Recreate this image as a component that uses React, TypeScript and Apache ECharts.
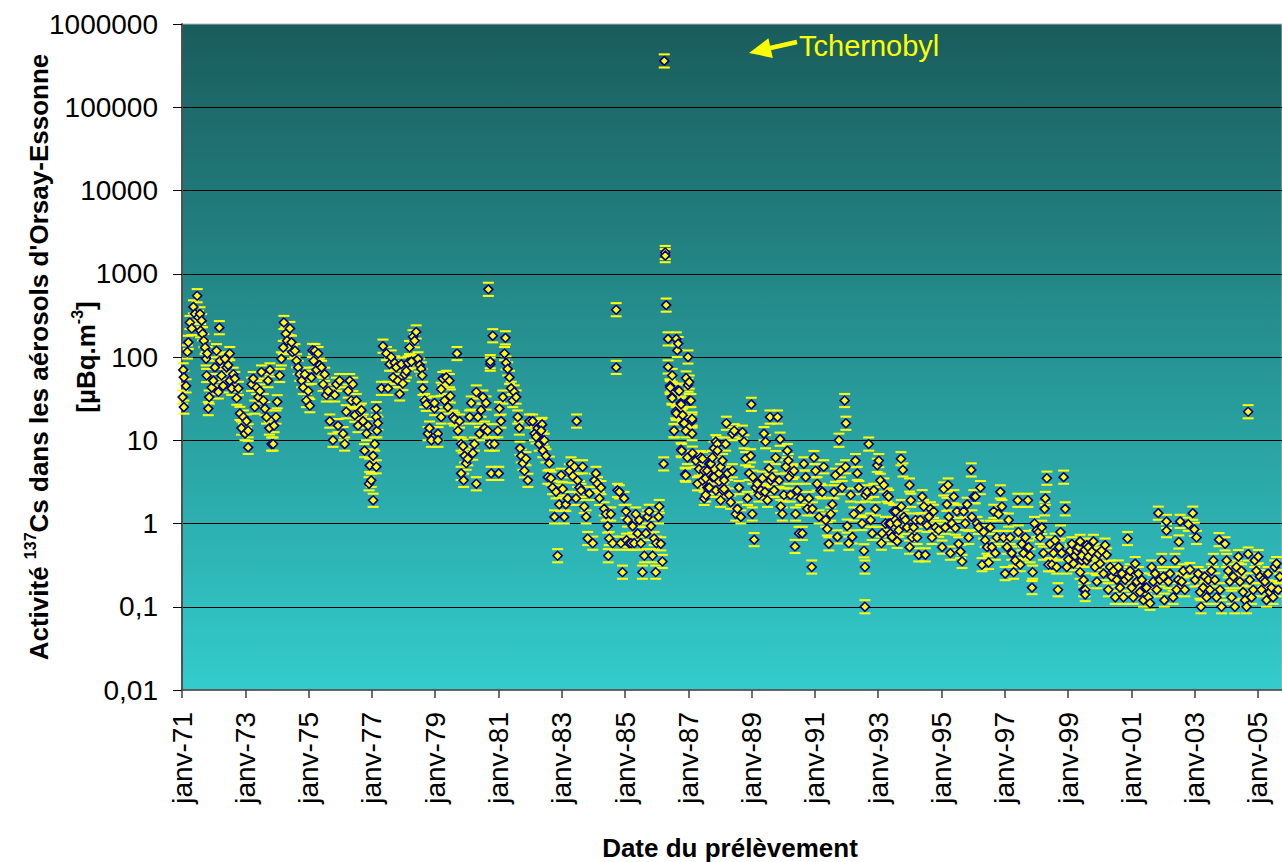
import { useEffect, useRef } from 'react';
import * as echarts from 'echarts';

// y-axis tick labels (log scale, one per decade, from 0,01 to 1000000)
const yTickLabels = ['0,01', '0,1', '1', '10', '100', '1000', '10000', '100000', '1000000'];
const firstYear = 1971;
const lastDate = 2005.76;
const errorFactor = 1.2; // relative uncertainty shown by the error bars

// [decimal year of sampling, 137Cs activity in µBq.m-3]
const samples1971to1976: [number, number][] = [
  [1971.04, 70], [1971.06, 57], [1971.02, 33], [1971.06, 25], [1971.13, 45], [1971.17, 115], [1971.2, 150],
  [1971.25, 260], [1971.31, 220], [1971.36, 400], [1971.41, 330], [1971.48, 545], [1971.52, 300], [1971.57, 330],
  [1971.59, 207], [1971.62, 273], [1971.65, 190], [1971.69, 157], [1971.73, 130], [1971.76, 95], [1971.78, 60],
  [1971.8, 110], [1971.83, 24], [1971.86, 33], [1971.94, 43], [1971.99, 52], [1972.04, 75], [1972.09, 119],
  [1972.15, 38], [1972.18, 225], [1972.2, 90], [1972.25, 60], [1972.3, 45], [1972.36, 95], [1972.41, 75],
  [1972.46, 80], [1972.51, 110], [1972.51, 52], [1972.57, 42], [1972.62, 62], [1972.67, 55], [1972.73, 32],
  [1972.78, 42], [1972.83, 21], [1972.88, 14], [1972.94, 19], [1972.99, 12], [1973.04, 17], [1973.09, 8.2],
  [1973.09, 13], [1973.2, 47], [1973.25, 55], [1973.3, 25], [1973.36, 43], [1973.41, 33], [1973.46, 39],
  [1973.51, 66], [1973.57, 30], [1973.62, 24], [1973.67, 19], [1973.72, 52], [1973.76, 14], [1973.78, 70],
  [1973.83, 9], [1973.88, 9], [1973.91, 15], [1973.97, 19], [1974.01, 29], [1974.09, 60], [1974.14, 95],
  [1974.2, 130], [1974.22, 260], [1974.28, 190], [1974.32, 157], [1974.41, 220], [1974.46, 150], [1974.49, 115],
  [1974.57, 119], [1974.62, 90], [1974.67, 75], [1974.72, 62], [1974.78, 52], [1974.83, 43], [1974.88, 62],
  [1974.93, 30], [1974.99, 39], [1975.04, 26], [1975.09, 57], [1975.12, 120], [1975.16, 90], [1975.2, 119],
  [1975.25, 70], [1975.3, 110], [1975.35, 80], [1975.41, 75], [1975.46, 47], [1975.51, 62], [1975.56, 35],
  [1975.62, 39], [1975.67, 17], [1975.77, 10], [1975.83, 35], [1975.88, 47], [1975.93, 15], [1975.98, 52],
  [1976.09, 12], [1976.14, 9], [1976.19, 22], [1976.25, 39], [1976.3, 52], [1976.35, 30], [1976.4, 47],
  [1976.46, 20], [1976.51, 30], [1976.56, 15], [1976.62, 22],
];

const samples1976to1982: [number, number][] = [
  [1976.67, 23], [1976.72, 17], [1976.77, 7.5], [1976.83, 12], [1976.88, 15], [1976.91, 3], [1976.93, 5],
  [1976.98, 3.3], [1977.04, 6.5], [1977.04, 1.9], [1977.09, 9], [1977.14, 24], [1977.14, 19], [1977.14, 4.8],
  [1977.16, 13], [1977.19, 16], [1977.3, 42], [1977.35, 135], [1977.46, 110], [1977.51, 42], [1977.56, 82],
  [1977.61, 100], [1977.67, 57], [1977.72, 85], [1977.77, 75], [1977.82, 52], [1977.88, 36], [1977.93, 82],
  [1977.98, 48], [1978.04, 62], [1978.09, 68], [1978.14, 85], [1978.19, 130], [1978.25, 88], [1978.3, 175],
  [1978.35, 157], [1978.4, 200], [1978.46, 95], [1978.51, 80], [1978.56, 72], [1978.59, 60], [1978.61, 42],
  [1978.67, 30], [1978.72, 27], [1978.77, 12], [1978.82, 14], [1978.88, 10], [1978.98, 24], [1978.98, 28],
  [1979.09, 12], [1979.09, 10], [1979.19, 41], [1979.19, 19], [1979.24, 55], [1979.3, 30], [1979.35, 57],
  [1979.4, 25], [1979.45, 52], [1979.48, 34], [1979.56, 19], [1979.61, 18], [1979.69, 110], [1979.72, 13],
  [1979.77, 17], [1979.82, 9], [1979.82, 4], [1979.88, 8.5], [1979.9, 3.3], [1979.93, 6.5], [1979.98, 5.3],
  [1980.03, 6], [1980.09, 19], [1980.14, 28], [1980.19, 7], [1980.24, 9], [1980.3, 38], [1980.3, 3],
  [1980.35, 19], [1980.4, 12], [1980.45, 23], [1980.51, 33], [1980.56, 14], [1980.61, 28], [1980.66, 13],
  [1980.68, 650], [1980.72, 9], [1980.74, 82], [1980.74, 88], [1980.77, 4], [1980.82, 180], [1980.87, 9],
  [1980.98, 13], [1981.01, 4], [1981.03, 24], [1981.08, 17], [1981.14, 33], [1981.19, 110], [1981.22, 170],
  [1981.24, 85], [1981.29, 72], [1981.35, 57], [1981.4, 42], [1981.45, 30], [1981.5, 38], [1981.56, 33],
  [1981.61, 19], [1981.66, 14], [1981.68, 8], [1981.72, 6.5], [1981.77, 5.3], [1981.82, 4.3], [1981.87, 6],
  [1981.93, 3.3], [1981.98, 17], [1982.08, 17], [1982.14, 12], [1982.19, 11], [1982.24, 14], [1982.29, 9],
  [1982.35, 15], [1982.4, 10],
];

const samples1982to1986: [number, number][] = [
  [1982.38, 15.5], [1982.35, 13], [1982.45, 10], [1982.4, 7.5], [1982.5, 6.5], [1982.61, 5.3], [1982.56, 3.6],
  [1982.66, 3.5], [1982.71, 2.7], [1982.77, 1.2], [1982.82, 2.4], [1982.87, 0.41], [1982.92, 1.7], [1982.98, 3.8],
  [1983.03, 2.6], [1983.08, 1.2], [1983.13, 1.7], [1983.19, 2], [1983.24, 4.3], [1983.29, 5.2], [1983.35, 3.7],
  [1983.4, 4.8], [1983.45, 2], [1983.47, 17], [1983.5, 3.3], [1983.56, 2.7], [1983.61, 2.5], [1983.66, 4.8],
  [1983.71, 1.6], [1983.77, 1.2], [1983.82, 0.66], [1983.87, 2.3], [1983.98, 0.58], [1984.03, 3.3], [1984.08, 4],
  [1984.13, 3], [1984.19, 2], [1984.24, 2.7], [1984.34, 1.5], [1984.4, 1.3], [1984.45, 0.93], [1984.47, 0.41],
  [1984.5, 0.66], [1984.55, 1.3], [1984.61, 0.58], [1984.72, 370], [1984.72, 75], [1984.76, 2.5], [1984.82, 2.4],
  [1984.87, 0.58], [1984.92, 0.26], [1984.97, 2], [1985.03, 1.4], [1985.05, 0.63], [1985.08, 1.1], [1985.13, 0.58],
  [1985.19, 0.58], [1985.24, 0.93], [1985.29, 0.58], [1985.34, 1.3], [1985.4, 0.76], [1985.45, 1.1], [1985.5, 0.58],
  [1985.55, 0.26], [1985.61, 0.41], [1985.66, 0.76], [1985.71, 1.2], [1985.76, 1.4], [1985.82, 0.93],
  [1985.87, 0.41], [1985.92, 0.66], [1985.97, 0.26], [1985.99, 0.58], [1986.06, 1.2], [1986.08, 1.6],
  [1986.13, 0.57], [1986.18, 0.35], [1986.22, 5.2],
];

const samplesChernobyl: [number, number][] = [
  [1986.24, 360000], [1986.27, 1800], [1986.27, 1650], [1986.3, 420], [1986.36, 165], [1986.36, 76],
  [1986.42, 45], [1986.43, 43], [1986.48, 33], [1986.49, 60], [1986.49, 32], [1986.55, 13], [1986.55, 13],
  [1986.6, 22], [1986.62, 165], [1986.62, 21], [1986.65, 120], [1986.68, 145], [1986.68, 40], [1986.71, 39],
  [1986.76, 28], [1986.77, 27], [1986.77, 7.7], [1986.79, 7.5], [1986.82, 20], [1986.84, 16], [1986.87, 16],
  [1986.9, 3.9], [1986.92, 13], [1986.92, 3.8], [1986.93, 56], [1986.97, 6.2], [1986.99, 100], [1986.99, 46],
  [1987.03, 30], [1987.03, 50], [1987.08, 30], [1987.11, 17], [1987.12, 18], [1987.12, 12], [1987.13, 7],
];

const samples1987to1993: [number, number][] = [
  [1987.24, 5.7], [1987.29, 3], [1987.34, 4.5], [1987.39, 6.2], [1987.45, 6], [1987.45, 3.3], [1987.5, 2],
  [1987.5, 4.3], [1987.55, 3.5], [1987.55, 2.2], [1987.6, 4.3], [1987.6, 2.7], [1987.66, 2.7], [1987.66, 5.2],
  [1987.71, 5.2], [1987.71, 3.8], [1987.76, 3.6], [1987.76, 6.2], [1987.81, 8], [1987.81, 3.6], [1987.87, 2.5],
  [1987.87, 9.6], [1987.92, 9], [1987.92, 7.5], [1987.97, 4], [1987.97, 3.2], [1988.02, 1.9], [1988.02, 4.8],
  [1988.08, 5.7], [1988.08, 2.5], [1988.13, 3.3], [1988.13, 2.6], [1988.18, 9], [1988.2, 16], [1988.24, 4],
  [1988.29, 2.2], [1988.34, 1.8], [1988.39, 12], [1988.39, 4.3], [1988.45, 13], [1988.5, 1.3], [1988.55, 1.5],
  [1988.6, 2.7], [1988.66, 1.2], [1988.71, 12.5], [1988.76, 9.6], [1988.81, 6], [1988.87, 2], [1988.92, 4],
  [1988.97, 6.5], [1988.99, 27], [1989.02, 1.3], [1989.04, 3.6], [1989.08, 0.64], [1989.13, 2.7], [1989.18, 3],
  [1989.23, 2.2], [1989.29, 2.5], [1989.34, 3.5], [1989.39, 12], [1989.42, 2.4], [1989.44, 9.6], [1989.5, 1.9],
  [1989.55, 4.6], [1989.58, 19], [1989.6, 3.3], [1989.65, 3.6], [1989.71, 2.5], [1989.76, 6.2], [1989.82, 19],
  [1989.87, 3.3], [1989.9, 10.3], [1989.92, 1.6], [1989.97, 1.3], [1990.02, 2.2], [1990.08, 4.8], [1990.13, 7.5],
  [1990.16, 5.7], [1990.18, 3.6], [1990.23, 2.2], [1990.29, 4.1], [1990.34, 4.3], [1990.37, 0.53], [1990.39, 1.3],
  [1990.44, 2.5], [1990.5, 0.76], [1990.55, 2], [1990.6, 0.76], [1990.65, 5.2], [1990.71, 3.6], [1990.76, 1.5],
  [1990.81, 2], [1990.9, 0.3], [1990.92, 1.5], [1990.97, 6.2], [1991.02, 4.3], [1991.07, 3], [1991.13, 1.2],
  [1991.18, 2.5], [1991.23, 2.4], [1991.28, 4.8], [1991.34, 1.1], [1991.39, 0.86], [1991.44, 0.57], [1991.5, 1.3],
  [1991.55, 1.7], [1991.6, 2.4], [1991.65, 3.8], [1991.71, 0.69], [1991.76, 10], [1991.81, 4.3], [1991.86, 2.7],
  [1991.94, 30], [1991.98, 16], [1991.97, 4.8], [1992.02, 0.93], [1992.07, 0.58], [1992.13, 2.2], [1992.18, 0.69],
  [1992.23, 1.3], [1992.28, 5.7], [1992.34, 4], [1992.39, 2.7], [1992.44, 1.5], [1992.49, 1], [1992.55, 0.47],
  [1992.58, 0.3], [1992.58, 0.1], [1992.6, 2.2], [1992.65, 2.4], [1992.7, 9], [1992.76, 1.1], [1992.81, 0.76],
  [1992.86, 2.5], [1992.91, 1.5], [1992.97, 5], [1993.02, 5.7], [1993.07, 3.3], [1993.1, 0.58], [1993.12, 0.76],
  [1993.18, 2.9], [1993.23, 1], [1993.28, 2.2],
];

const samples1993to1999: [number, number][] = [
  [1993.33, 2.1], [1993.34, 1], [1993.39, 1], [1993.39, 0.76], [1993.44, 0.68], [1993.44, 0.69], [1993.49, 1.4],
  [1993.54, 1.1], [1993.55, 1.4], [1993.6, 0.61], [1993.6, 1], [1993.65, 0.83], [1993.72, 6], [1993.73, 1.6],
  [1993.78, 4.4], [1993.81, 1.2], [1993.86, 1.1], [1993.91, 0.9], [1993.99, 2.9], [1993.99, 0.52], [1994.03, 1.9],
  [1994.07, 0.68], [1994.12, 0.9], [1994.18, 1.1], [1994.23, 0.68], [1994.28, 0.42], [1994.33, 1.1], [1994.39, 2.1],
  [1994.44, 1.6], [1994.49, 0.42], [1994.54, 0.95], [1994.6, 1.2], [1994.65, 1.5], [1994.7, 0.68], [1994.75, 1.4],
  [1994.81, 0.9], [1994.91, 0.83], [1995.02, 0.52], [1995.07, 2.6], [1995.12, 0.9], [1995.17, 1.7], [1995.21, 2.9],
  [1995.23, 1.2], [1995.28, 0.44], [1995.33, 1], [1995.39, 2.1], [1995.44, 0.88], [1995.49, 1.4], [1995.54, 0.57],
  [1995.6, 0.46], [1995.65, 0.35], [1995.7, 1.4], [1995.75, 1], [1995.81, 1.7], [1995.86, 0.68], [1995.94, 4.4],
  [1995.96, 1.2], [1996.02, 2.1], [1996.07, 2.1], [1996.12, 1], [1996.17, 0.9], [1996.23, 2.7], [1996.28, 0.32],
  [1996.33, 0.79], [1996.38, 0.63], [1996.44, 0.52], [1996.49, 0.34], [1996.54, 0.9], [1996.59, 0.52],
  [1996.65, 1.4], [1996.7, 0.44], [1996.75, 0.68], [1996.8, 1.3], [1996.86, 2.4], [1996.91, 1.6], [1996.96, 0.68],
  [1997.01, 0.25], [1997.07, 0.52], [1997.12, 1.1], [1997.17, 0.68], [1997.22, 0.44], [1997.28, 0.26],
  [1997.33, 0.36], [1997.41, 1.9], [1997.43, 0.79], [1997.49, 0.32], [1997.54, 0.57], [1997.59, 0.44],
  [1997.65, 0.68], [1997.73, 1.9], [1997.75, 0.52], [1997.8, 0.41], [1997.86, 0.17], [1997.88, 0.26], [1997.94, 1],
  [1998.01, 0.83], [1998.07, 0.79], [1998.12, 0.68], [1998.17, 0.9], [1998.22, 0.44], [1998.26, 1.5], [1998.28, 2],
  [1998.33, 3.5], [1998.38, 0.32], [1998.43, 0.57], [1998.49, 0.32], [1998.54, 0.44], [1998.59, 0.63],
  [1998.64, 0.3], [1998.68, 0.16], [1998.72, 0.52], [1998.76, 0.79], [1998.8, 0.44], [1998.86, 3.6], [1998.91, 1.5],
  [1998.96, 0.3], [1999.01, 0.37], [1999.07, 0.47], [1999.12, 0.57], [1999.17, 0.33], [1999.22, 0.41],
  [1999.28, 0.47], [1999.33, 0.52],
];

const samples1999to2005: [number, number][] = [
  [1999.38, 0.61], [1999.38, 0.26], [1999.43, 0.36], [1999.43, 0.41], [1999.49, 0.21], [1999.49, 0.16],
  [1999.54, 0.16], [1999.54, 0.14], [1999.59, 0.55], [1999.59, 0.36], [1999.64, 0.4], [1999.64, 0.52],
  [1999.75, 0.46], [1999.8, 0.61], [1999.85, 0.3], [1999.91, 0.2], [1999.96, 0.43], [2000.01, 0.33], [2000.06, 0.47],
  [2000.12, 0.25], [2000.17, 0.55], [2000.22, 0.42], [2000.27, 0.16], [2000.33, 0.3], [2000.38, 0.23],
  [2000.43, 0.27], [2000.49, 0.13], [2000.54, 0.21], [2000.59, 0.3], [2000.64, 0.17], [2000.7, 0.25],
  [2000.75, 0.13], [2000.8, 0.21], [2000.88, 0.66], [2000.91, 0.23], [2000.96, 0.27], [2001.01, 0.17],
  [2001.06, 0.13], [2001.12, 0.33], [2001.17, 0.2], [2001.22, 0.25], [2001.27, 0.15], [2001.33, 0.21],
  [2001.38, 0.12], [2001.43, 0.17], [2001.48, 0.17], [2001.54, 0.13], [2001.59, 0.11], [2001.64, 0.3],
  [2001.69, 0.2], [2001.75, 0.25], [2001.8, 0.16], [2001.85, 1.33], [2001.9, 0.21], [2001.96, 0.36], [2002.01, 0.23],
  [2002.04, 0.12], [2002.11, 1.06], [2002.11, 0.82], [2002.17, 0.2], [2002.22, 0.25], [2002.32, 0.13],
  [2002.38, 0.36], [2002.43, 0.16], [2002.48, 0.21], [2002.5, 0.6], [2002.54, 1.06], [2002.59, 0.2], [2002.64, 0.27],
  [2002.69, 0.16], [2002.8, 0.98], [2002.85, 0.28], [2002.94, 1.33], [2002.99, 0.85], [2003.01, 0.21],
  [2003.06, 0.68], [2003.11, 0.25], [2003.17, 0.15], [2003.2, 0.1], [2003.27, 0.17], [2003.32, 0.23],
  [2003.38, 0.13], [2003.43, 0.21], [2003.48, 0.16], [2003.53, 0.27], [2003.59, 0.36], [2003.64, 0.21],
  [2003.69, 0.13], [2003.77, 0.64], [2003.8, 0.16], [2003.85, 0.1], [2003.96, 0.57], [2004.01, 0.36],
  [2004.06, 0.27], [2004.11, 0.2], [2004.17, 0.13], [2004.22, 0.23], [2004.27, 0.1], [2004.32, 0.3], [2004.38, 0.4],
  [2004.43, 0.2], [2004.48, 0.27], [2004.53, 0.15], [2004.59, 0.12], [2004.64, 0.1], [2004.69, 22], [2004.69, 0.43],
  [2004.74, 0.21], [2004.8, 0.13], [2004.85, 0.16], [2004.9, 0.36], [2004.95, 0.27], [2005.01, 0.4], [2005.06, 0.23],
  [2005.11, 0.16], [2005.16, 0.21], [2005.22, 0.2], [2005.27, 0.12], [2005.32, 0.25], [2005.37, 0.15],
  [2005.43, 0.17], [2005.48, 0.13], [2005.53, 0.3], [2005.59, 0.33], [2005.64, 0.16], [2005.69, 0.23],
];

const FONT = '"Liberation Sans", Arial, sans-serif';

export default function App() {
  const ref = useRef<HTMLDivElement>(null);

  useEffect(() => {
    if (!ref.current) return;
    const chart = echarts.init(ref.current, null, { renderer: 'svg' });
    const points = [
      ...samples1971to1976,
      ...samples1976to1982,
      ...samples1982to1986,
      ...samplesChernobyl,
      ...samples1987to1993,
      ...samples1993to1999,
      ...samples1999to2005,
    ].map(([d, v]) => [d - firstYear, v]);

    const yellow = '#FFFF00';

    chart.setOption({
      animation: false,
      grid: {
        left: 182,
        top: 24,
        right: 0,
        bottom: 172,
        show: true,
        borderColor: '#b8b8b8',
        borderWidth: 1,
        backgroundColor: new echarts.graphic.LinearGradient(0, 0, 0, 1, [
          { offset: 0, color: '#1a5c5c' },
          { offset: 1, color: '#33cccc' },
        ]),
      },
      xAxis: {
        type: 'value',
        min: 0,
        max: lastDate - firstYear,
        interval: 2,
        axisLine: { show: true, onZero: false, lineStyle: { color: '#404040', width: 1.5 } },
        axisTick: { show: true, length: 8, lineStyle: { color: '#404040', width: 1.5 } },
        splitLine: { show: false },
        axisLabel: {
          rotate: 90,
          margin: 22,
          fontSize: 28,
          fontFamily: FONT,
          color: '#000',
          showMaxLabel: false,
          formatter: (v: number) => {
            if (Math.abs(v - Math.round(v)) > 1e-6) return '';
            const yy = (firstYear + Math.round(v)) % 100;
            return 'janv-' + (yy < 10 ? '0' + yy : String(yy));
          },
        },
      },
      yAxis: {
        type: 'log',
        logBase: 10,
        min: 0.01,
        max: 1000000,
        axisLine: { show: true, lineStyle: { color: '#505050', width: 2 } },
        axisTick: { show: true, length: 9, lineStyle: { color: '#000', width: 1 } },
        splitLine: { show: true, showMaxLine: false, showMinLine: false, lineStyle: { color: '#000', width: 1 } },
        axisLabel: {
          margin: 24,
          fontSize: 28,
          fontFamily: FONT,
          color: '#000',
          formatter: (v: number) => {
            const i = Math.round(Math.log10(v)) + 2;
            return yTickLabels[i] ?? '';
          },
        },
      },
      series: [
        {
          type: 'custom',
          name: 'incertitude',
          data: points,
          encode: { x: 0, y: 1 },
          z: 2,
          renderItem: (_params: any, api: any) => {
            const x = api.value(0);
            const v = api.value(1);
            const c = api.coord([x, v]);
            const hi = api.coord([x, v * errorFactor]);
            const lo = api.coord([x, v / errorFactor]);
            return {
              type: 'group',
              children: [
                { type: 'line', shape: { x1: c[0], y1: hi[1], x2: c[0], y2: lo[1] }, style: { stroke: yellow, lineWidth: 1.5 } },
                { type: 'line', shape: { x1: c[0] - 5.5, y1: hi[1], x2: c[0] + 5.5, y2: hi[1] }, style: { stroke: yellow, lineWidth: 2 } },
                { type: 'line', shape: { x1: c[0] - 5.5, y1: lo[1], x2: c[0] + 5.5, y2: lo[1] }, style: { stroke: yellow, lineWidth: 2 } },
              ],
            };
          },
        },
        {
          type: 'scatter',
          name: 'Activité 137Cs',
          data: points,
          z: 3,
          symbol: 'diamond',
          symbolSize: 9,
          itemStyle: { color: yellow, borderColor: '#000080', borderWidth: 1.6, opacity: 1 },
        },
      ],
      graphic: [
        {
          type: 'text',
          x: 37,
          y: 357,
          rotation: Math.PI / 2,
          style: {
            text: "{b|Activité }{s|137}{b|Cs dans les aérosols d'Orsay-Essonne}",
            align: 'center',
            verticalAlign: 'middle',
            rich: {
              b: { fontSize: 26, fontWeight: 'bold', fontFamily: FONT, fill: '#000', lineHeight: 30, verticalAlign: 'bottom' },
              s: { fontSize: 16, fontWeight: 'bold', fontFamily: FONT, fill: '#000', lineHeight: 30, verticalAlign: 'top' },
            },
          },
        },
        {
          type: 'text',
          x: 84,
          y: 357,
          rotation: Math.PI / 2,
          style: {
            text: '{b|[µBq.m}{s|-3}{b|]}',
            align: 'center',
            verticalAlign: 'middle',
            rich: {
              b: { fontSize: 26, fontWeight: 'bold', fontFamily: FONT, fill: '#000', lineHeight: 30, verticalAlign: 'bottom' },
              s: { fontSize: 16, fontWeight: 'bold', fontFamily: FONT, fill: '#000', lineHeight: 30, verticalAlign: 'top' },
            },
          },
        },
        {
          type: 'text',
          x: 730,
          y: 848,
          style: {
            text: 'Date du prélèvement',
            fontSize: 26,
            fontWeight: 'bold',
            fontFamily: FONT,
            fill: '#000',
            align: 'center',
            verticalAlign: 'middle',
          },
        },
        {
          type: 'text',
          x: 799,
          y: 46,
          z: 10,
          style: {
            text: 'Tchernobyl',
            fontSize: 29,
            fontFamily: FONT,
            fill: yellow,
            align: 'left',
            verticalAlign: 'middle',
          },
        },
        {
          type: 'line',
          z: 10,
          shape: { x1: 797, y1: 42, x2: 768, y2: 48.5 },
          style: { stroke: yellow, lineWidth: 4.5 },
        },
        {
          type: 'polygon',
          z: 10,
          shape: { points: [[749, 53], [772.8, 57.9], [768.4, 38.3]] },
          style: { fill: yellow },
        },
      ],
    });

    return () => chart.dispose();
  }, []);

  return (
    <div
      ref={ref}
      style={{ position: 'absolute', left: 0, top: 0, width: 1282, height: 862, background: '#fff' }}
    />
  );
}
